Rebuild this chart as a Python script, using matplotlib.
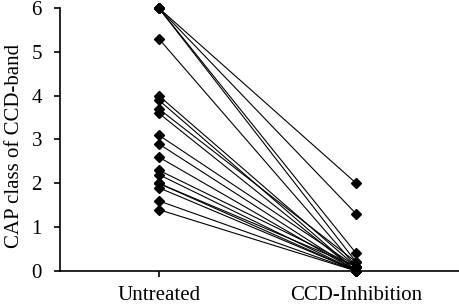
import matplotlib
matplotlib.use("Agg")
import matplotlib.pyplot as plt

categories = ["Untreated", "CCD-Inhibition"]
untreated = [6.0, 6.0, 6.0, 6.0, 5.3, 4.0, 3.9, 3.7, 3.6, 3.1, 2.9, 2.6,
             2.3, 2.2, 2.0, 2.0, 1.9, 1.6, 1.4]
inhibited = [2.0, 1.3, 0.4, 0.2, 0.1, 0.1, 0.0, 0.2, 0.0, 0.1, 0.0, 0.0,
             0.1, 0.0, 0.0, 0.1, 0.0, 0.0, 0.0]

plt.rcParams['font.family'] = ['Liberation Serif', 'DejaVu Serif']
plt.rcParams['font.size'] = 15

fig = plt.figure(figsize=(4.59, 3.05), dpi=100)
ax = fig.add_axes([60 / 459, 34 / 305, 399 / 459, 263 / 305])

for a, b in zip(untreated, inhibited):
    ax.plot([0, 1], [a, b], color='black', lw=0.8, marker='D', ms=5,
            clip_on=False, zorder=3)

ax.set_xlim(-0.5, 1.52)
ax.set_ylim(0, 6)
ax.set_xticks([0, 1])
ax.set_xticklabels(categories)
ax.set_yticks(range(7))
ax.set_ylabel("CAP class of CCD-band")
ax.yaxis.set_label_coords(-0.09, 0.475)
ax.spines['top'].set_visible(False)
ax.spines['right'].set_visible(False)
for s in ['left', 'bottom']:
    ax.spines[s].set_linewidth(1.2)
ax.tick_params(direction='out', length=4, width=1.2, color='black')
ax.tick_params(axis='y', pad=9)
ax.tick_params(axis='x', pad=6.5)

fig.savefig("out.png", dpi=100)
